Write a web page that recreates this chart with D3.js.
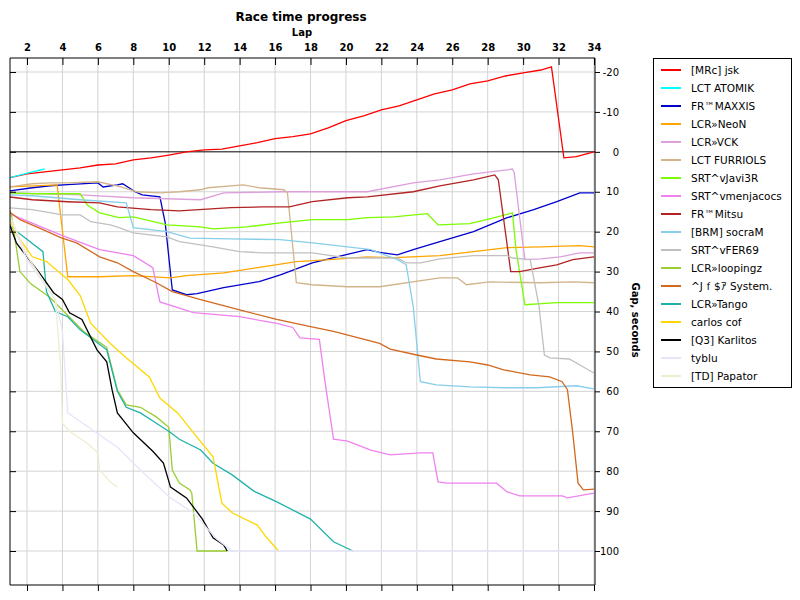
<!DOCTYPE html>
<html><head><meta charset="utf-8">
<script src="https://cdn.jsdelivr.net/npm/d3@7"></script>
<style>body{margin:0;background:#fff}text{font-family:"DejaVu Sans",Verdana,sans-serif}</style>
</head><body><svg id="c" width="800" height="600"></svg>
<script>
const names = ["[MRc] jsk","LCT ATOMIK","FR™MAXXIS","LCR»NeoN","LCR»VCK","LCT FURRIOLS","SRT^vJavi3R","SRT^vmenjacocs","FR™Mitsu","[BRM] socraM","SRT^vFER69","LCR»loopingz","^Jｆ$ｱ System.","LCR»Tango","carlos cof","[Q3] Karlitos","tyblu","[TD] Papator"];
const colors = ["#ff0000","#00ffff","#0000cd","#ffa500","#dda0dd","#d2b48c","#7cfc00","#ee82ee","#b22222","#87ceeb","#c0c0c0","#9acd32","#d2691e","#20b2aa","#ffd700","#000000","#e6e6fa","#f0ecd0"];
const lapTicks = [2,4,6,8,10,12,14,16,18,20,22,24,26,28,30,32,34];
const gapTicks = [-20,-10,0,10,20,30,40,50,60,70,80,90,100];
// [lap, gap seconds]
const jsk = [[1,6.5],[2,5.5],[3,5],[4,4.5],[5,4],[6,3.3],[7,3],[8,2],[9,1.5],[10,0.8],[11,0],[12,-0.5],[13,-0.7],[14,-1.5],[15,-2.3],[16,-3.3],[17,-3.8],[18,-4.5],[19,-6],[20,-7.8],[21,-9],[22,-10.5],[23,-11.5],[24,-13],[25,-14.5],[26,-15.5],[27,-17],[28,-17.8],[29,-19],[30,-19.8],[31,-20.5],[31.6,-21.3],[32.3,1.5],[33,1.2],[34,0]];
const atomik = [[1,6.5],[2.3,5],[3,4.3]];
const maxxis = [[1,9.8],[2.3,9],[3.3,8.5],[4.3,8.2],[6,7.8],[6.3,8.8],[7.1,8.3],[7.4,8],[8.1,10],[8.5,10.8],[9.5,11.3],[9.8,17.8],[10.2,34.6],[11,35.8],[11.6,35.5],[13.1,34],[15.1,32.5],[16.3,30.8],[18.1,27.8],[19.5,26.3],[21.2,24.5],[21.9,25.2],[22.9,25.8],[23.8,24.5],[25.3,22.5],[27.2,20],[29.1,16.5],[30.6,14.5],[31.9,12.5],[33.2,10.3],[34,10.3]];
const neon = [[1,8.8],[3.7,8.3],[4.3,31.3],[6.1,31.3],[8,31],[10.1,31.6],[11,31],[13.1,30.3],[15.3,28.8],[17.2,27.5],[19.1,27],[21.2,26.3],[22.7,26.5],[25.3,26],[27.2,25],[29.1,24],[31,23.8],[33.2,23.5],[34,23.8]];
const vck = [[1,10.3],[5,10.8],[8,11.5],[11.8,12],[13.1,10.3],[16.3,10],[21.2,10],[23.8,7.8],[25.3,7],[27.2,5.5],[29.1,4.5],[29.4,4.3],[29.5,5.3],[29.8,16.3],[30.1,27],[31,26.8],[32.1,26.3],[33.2,25.3],[34,25.3]];
const furriols = [[1,8.8],[2.3,8],[3.3,7.8],[4.3,7.8],[6,7.5],[7.3,8.8],[8.2,10],[9.5,10.3],[10.6,10],[11.8,9.5],[12.2,9],[14.2,8.3],[15.1,9],[16.5,9.5],[16.7,10.3],[17.2,32.8],[18.1,33.3],[20.1,33.8],[21.9,33.8],[25.3,31.6],[26.3,31.6],[26.8,33.3],[28.1,32.6],[31,32.8],[32.8,32.6],[34,32.8]];
const javi = [[1,10.3],[2.3,10.5],[5,10.5],[5.4,13.3],[6.1,15.3],[7.2,16.5],[8,16.3],[9.9,18.3],[11.8,18.8],[12.5,19.3],[14.4,18.8],[16.3,17.8],[17,17.5],[18.1,17],[20.1,17],[21.2,16.5],[22.7,16.3],[24.6,15.5],[25.2,18.3],[27,18],[28.1,16.8],[29.4,15.3],[29.6,24.6],[30.1,38.3],[31.9,37.8],[34,37.8]];
const menja = [[1,15.5],[4,21],[6.1,24.5],[8,26],[9.1,29],[9.5,37.6],[11.4,40.3],[14,41.3],[16.1,43],[17,44],[17.4,46.6],[18.5,47],[18.8,57],[19.3,72],[20.1,72.5],[21.4,74.7],[22.5,75.9],[24.2,75.4],[24.9,75.4],[25.2,82.7],[25.7,83],[28.5,83],[29.1,85.2],[29.8,86.2],[32.2,86.2],[32.5,86.7],[34,85.5]];
const mitsu = [[1,11.3],[2.3,12],[4.3,12.5],[6.1,12.8],[7.1,13.8],[9,14.5],[10.6,14.8],[13.5,14],[15.3,13.8],[16.8,13.8],[18.1,12.5],[20.1,11.5],[21.2,11.3],[23.8,10],[25.3,8.5],[27.2,7],[28.4,5.8],[28.6,7],[29.3,30],[29.8,30],[31,29],[31.9,28.3],[32.8,27],[34,26.3]];
const socram = [[1,10.8],[2.3,11],[5,12],[7.6,12.8],[8,19],[9.9,20],[11.2,21.6],[13.5,21.8],[16.3,22],[18.1,22.8],[20.1,23.8],[21.4,24.5],[22.9,27],[23.4,28.3],[23.8,38.8],[24.2,57.6],[25.1,58.4],[27,58.9],[28.9,59.1],[30.8,59.1],[33,58.6],[34,59.4]];
const fer = [[1,14],[2.3,14.5],[4,15.8],[5,15.8],[5.6,17.5],[6.7,18.3],[7.2,19],[8,20.3],[9.9,21.3],[10.6,22.5],[11.8,23.3],[12.5,23.8],[14,25],[15.3,25.3],[18.1,25.3],[20.1,26.6],[22.9,26.6],[23.4,27.8],[24.2,27.8],[25.3,26.8],[27.2,26],[29.1,26],[29.4,26.6],[30.4,27],[30.9,38.8],[31.2,50.9],[31.5,51.6],[32.6,51.9],[33.4,53.9],[34,55.4]];
const looping = [[1,14.5],[1.15,16.5],[1.6,30],[2.2,33],[3.3,36.5],[4.3,41],[5.2,45],[6.5,49],[7.1,59.6],[7.6,63.4],[8.4,64],[9.3,66.4],[10,69],[10.2,79.7],[10.6,83],[11.2,84.7],[11.3,85.5],[11.6,100],[13.3,100]];
const system = [[1,15],[1.6,17],[2.9,19.5],[3.9,21.5],[4.8,22.8],[6.1,26.3],[7.1,27.8],[8,30],[9.3,32.8],[10.2,35],[11.8,37],[14,39.6],[16.1,42],[18,43.8],[19.3,45],[21.9,48],[22.5,49.4],[24,50.9],[25.1,51.9],[27,52.6],[28,53.4],[28.9,54.6],[30.4,55.9],[31.5,56.4],[32.2,57.6],[32.5,59.6],[32.8,70.4],[33.1,83],[33.4,84.7],[34,84.5]];
const tango = [[1,18.5],[2.9,25],[3.1,35],[3.6,40],[4.3,41.3],[5,44.6],[5.6,46.6],[6.5,49.6],[7.1,60],[7.6,64],[8.4,65.4],[9.3,68],[10,70],[10.6,72],[11.8,74.7],[12.5,78],[13.6,81],[14.8,85],[16.1,87.7],[18,92],[19.3,97.7],[20.4,100]];
const carlos = [[1,16.5],[1.3,20],[2.3,26.3],[3.1,27.5],[4.3,32],[5,36],[5.6,43],[6.7,48],[7.6,51.6],[8.9,56.4],[9.5,61.7],[10.5,65.4],[11.4,70.4],[12.5,76.4],[13,88],[13.6,90.5],[15,93.5],[15.5,96.5],[16.2,100]];
const karlitos = [[1,18],[1.4,22.8],[2,26.3],[2.7,30.3],[3.5,35.3],[4,37],[4.4,40.3],[5.1,42],[5.95,49.6],[6.5,52.6],[6.8,59.6],[7.1,65.4],[8,70.4],[9.1,75],[9.7,78],[10.1,84],[11,86.7],[11.9,92],[12.5,96.7],[13.1,98.5],[13.3,100]];
const tyblu = [[1,16],[2,27],[3.6,37],[4,45],[4.3,65.4],[5.7,69.7],[7.1,74],[8.4,79.7],[10.1,86.7],[11.4,90.5],[12.7,97],[13.6,100],[34,100]];
const papator = [[1,15.5],[2,26],[3.6,37],[3.9,54],[4,68],[4.4,70],[5.4,73],[6,75.4],[6.1,79.7],[6.7,82.7],[7.1,84]];
const series = [jsk,atomik,maxxis,neon,vck,furriols,javi,menja,mitsu,socram,fer,looping,system,tango,carlos,karlitos,tyblu,papator];

const svg = d3.select("#c");
const L=10,R=595,T=58,B=585;
const x = d3.scaleLinear().domain([2,34]).range([27,594]);
const y = d3.scaleLinear().domain([-20,100]).range([72,551]);
svg.append("clipPath").attr("id","cp").append("rect").attr("x",L).attr("y",T).attr("width",R-L).attr("height",B-T);
const g = svg.append("g");
g.selectAll(".vg").data(lapTicks).join("line").attr("x1",d=>x(d)).attr("x2",d=>x(d)).attr("y1",T).attr("y2",B).attr("stroke","#d3d3d3");
g.selectAll(".hg").data(gapTicks).join("line").attr("x1",L).attr("x2",R).attr("y1",d=>y(d)).attr("y2",d=>y(d)).attr("stroke",d=>d===0?"#000":"#d3d3d3");
const line = d3.line().x(d=>x(d[0])).y(d=>y(d[1]));
const lg = svg.append("g").attr("clip-path","url(#cp)");
series.forEach((s,i)=>{ lg.append("path").attr("d",line(s)).attr("fill","none").attr("stroke",colors[i]).attr("stroke-width",1.3); });
// axes
svg.append("g").attr("transform",`translate(0,${T})`).call(d3.axisTop(x).tickValues(lapTicks).tickSize(-7).tickSizeOuter(0))
  .call(a=>{a.select(".domain").attr("d",`M${L},0H${R}`);a.selectAll("text").attr("y",-11).attr("dy","0.35em").attr("font-size",10).attr("font-weight","bold").attr("fill","#000");});
svg.append("g").attr("transform",`translate(0,${B})`).call(d3.axisBottom(x).tickValues(lapTicks).tickSize(6).tickFormat("").tickSizeOuter(0))
  .call(a=>a.select(".domain").attr("d",`M${L},0H${R}`));
svg.append("g").attr("transform",`translate(${R},0)`).call(d3.axisRight(y).tickValues(gapTicks).tickSize(5).tickSizeOuter(0).tickFormat(d=>d))
  .call(a=>{a.select(".domain").attr("d",`M0,${T}V${B}`);a.selectAll("text").attr("x",24).attr("text-anchor","end").attr("font-size",10).attr("fill","#000");});
svg.append("g").attr("transform",`translate(${L},0)`).call(d3.axisRight(y).tickValues(gapTicks).tickSize(6).tickSizeOuter(0).tickFormat(""))
  .call(a=>a.select(".domain").attr("d",`M0,${T}V${B}`));
svg.selectAll(".domain").attr("stroke","#000");
svg.append("text").attr("x",301).attr("y",21).attr("text-anchor","middle").attr("font-size",12).attr("font-weight","bold").text("Race time progress");
svg.append("text").attr("x",302).attr("y",36).attr("text-anchor","middle").attr("font-size",10).attr("font-weight","bold").text("Lap");
svg.append("text").attr("transform","translate(632,320) rotate(90)").attr("text-anchor","middle").attr("font-size",10).attr("font-weight","bold").text("Gap, seconds");
// legend
const leg = svg.append("g");
leg.append("rect").attr("x",653.5).attr("y",58.5).attr("width",138).attr("height",329).attr("fill","#fff").attr("stroke","#000");
names.forEach((n,i)=>{
  const yy=70+i*18;
  leg.append("line").attr("x1",661).attr("x2",681).attr("y1",yy).attr("y2",yy).attr("stroke",colors[i]).attr("stroke-width",2);
  leg.append("text").attr("x",691).attr("y",yy+4).attr("font-size",10.5).text(n);
});
</script></body></html>
